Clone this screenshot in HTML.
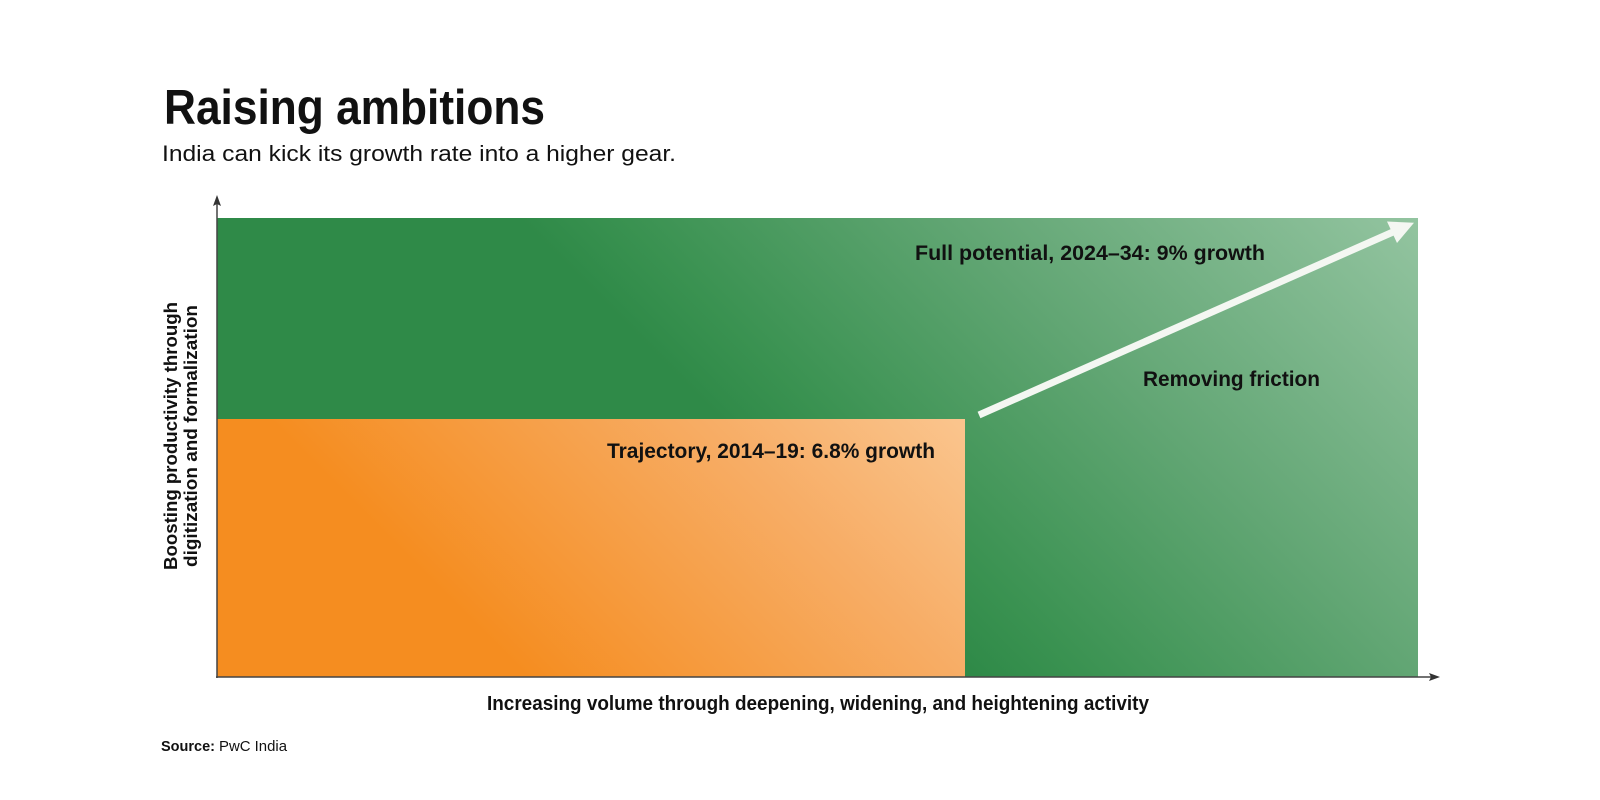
<!DOCTYPE html>
<html>
<head>
<meta charset="utf-8">
<style>
  html, body { margin: 0; padding: 0; background: #ffffff; }
  body { width: 1600px; height: 800px; overflow: hidden; }
  svg { display: block; }
  text { font-family: "Liberation Sans", "DejaVu Sans", sans-serif; fill: #111; }
</style>
</head>
<body>
<svg width="1600" height="800" viewBox="0 0 1600 800" xmlns="http://www.w3.org/2000/svg">
  <defs>
    <linearGradient id="gGreen" gradientUnits="userSpaceOnUse" x1="450" y1="150" x2="900" y2="-300">
      <stop offset="0" stop-color="#2f8a48"/>
      <stop offset="0.12" stop-color="#3a9251"/>
      <stop offset="0.49" stop-color="#62a674"/>
      <stop offset="1" stop-color="#93c4a0"/>
    </linearGradient>
    <linearGradient id="gOrange" gradientUnits="userSpaceOnUse" x1="192" y1="342" x2="540" y2="-6">
      <stop offset="0" stop-color="#f58d20"/>
      <stop offset="0.63" stop-color="#f7ad66"/>
      <stop offset="1" stop-color="#fac58e"/>
    </linearGradient>
  </defs>

  <!-- Title -->
  <text x="164" y="124" font-size="49" font-weight="bold" fill="#000" textLength="381" lengthAdjust="spacingAndGlyphs">Raising ambitions</text>
  <text x="162" y="161" font-size="22" textLength="514" lengthAdjust="spacingAndGlyphs">India can kick its growth rate into a higher gear.</text>

  <!-- Green region -->
  <rect x="217" y="218" width="1201" height="459" fill="url(#gGreen)"/>
  <!-- Orange region -->
  <rect x="217" y="419" width="748" height="258" fill="url(#gOrange)"/>

  <!-- Axes -->
  <line x1="217" y1="678" x2="217" y2="203" stroke="#444" stroke-width="1.5"/>
  <polygon points="217,195 213,206 217,204 221,206" fill="#333"/>
  <line x1="216" y1="677" x2="1432" y2="677" stroke="#444" stroke-width="1.5"/>
  <polygon points="1440,677 1429,673 1431,677 1429,681" fill="#333"/>

  <!-- Arrow -->
  <line x1="979" y1="415" x2="1393" y2="232" stroke="#f4f7f2" stroke-width="7"/>
  <polygon points="1414,222.7 1387,221.5 1397,243" fill="#f4f7f2"/>

  <!-- Labels in chart -->
  <text x="915" y="260" font-size="21" font-weight="bold" textLength="350" lengthAdjust="spacingAndGlyphs">Full potential, 2024–34: 9% growth</text>
  <text x="1143" y="386" font-size="21" font-weight="bold" textLength="177" lengthAdjust="spacingAndGlyphs">Removing friction</text>
  <text x="607" y="458" font-size="21" font-weight="bold" textLength="328" lengthAdjust="spacingAndGlyphs">Trajectory, 2014–19: 6.8% growth</text>

  <!-- Y axis label -->
  <g transform="translate(177,436) rotate(-90)">
    <text x="0" y="0" font-size="18.5" font-weight="bold" text-anchor="middle" textLength="268" lengthAdjust="spacingAndGlyphs">Boosting productivity through</text>
  </g>
  <g transform="translate(197,436) rotate(-90)">
    <text x="0" y="0" font-size="18.5" font-weight="bold" text-anchor="middle" textLength="262" lengthAdjust="spacingAndGlyphs">digitization and formalization</text>
  </g>

  <!-- X axis label -->
  <text x="487" y="710" font-size="20" font-weight="bold" textLength="662" lengthAdjust="spacingAndGlyphs">Increasing volume through deepening, widening, and heightening activity</text>

  <!-- Source -->
  <text x="161" y="751" font-size="15" font-weight="bold" textLength="54" lengthAdjust="spacingAndGlyphs">Source:</text>
  <text x="219" y="751" font-size="15" textLength="68" lengthAdjust="spacingAndGlyphs">PwC India</text>
</svg>
</body>
</html>
